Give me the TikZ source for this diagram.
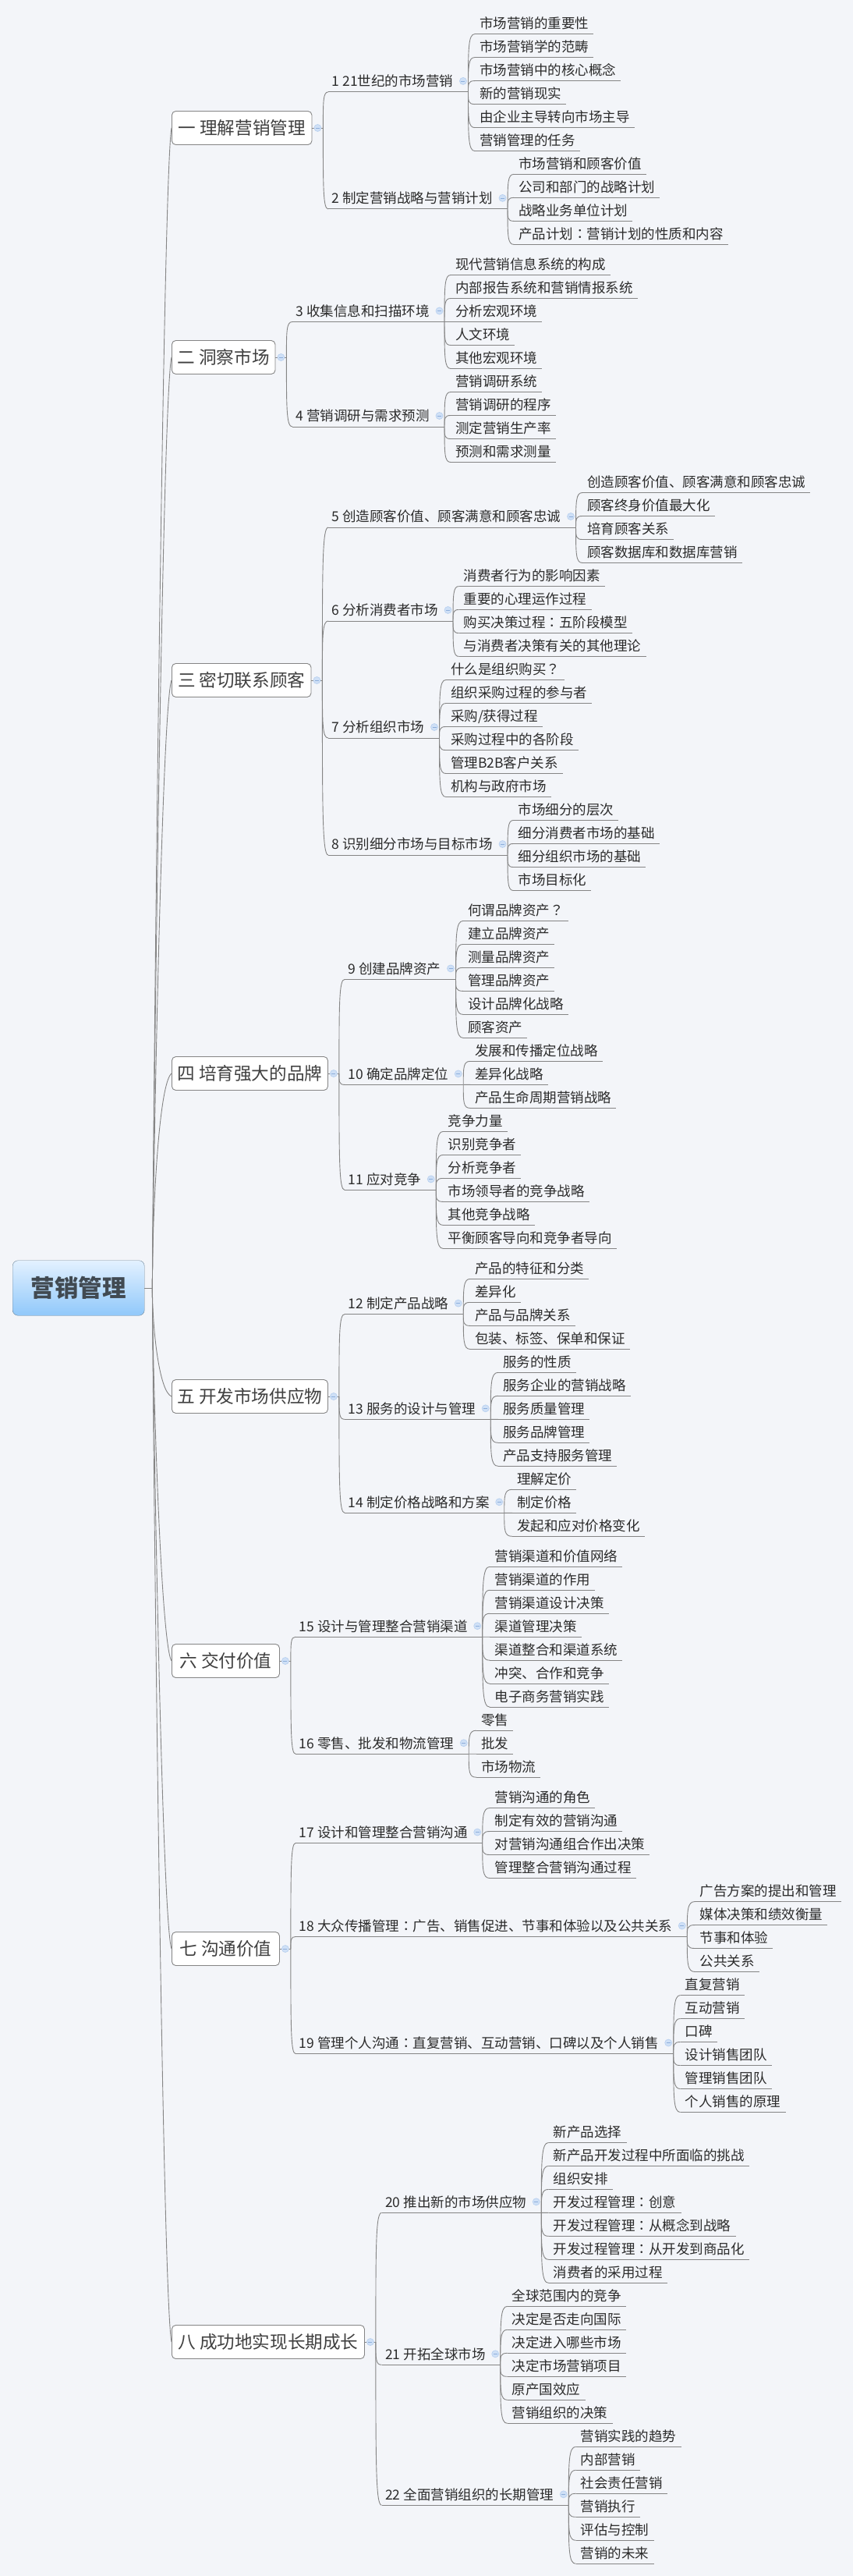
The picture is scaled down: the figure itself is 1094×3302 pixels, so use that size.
\documentclass[tikz,border=0pt]{standalone}
\usepackage{fontspec}
\setmainfont{Noto Sans CJK SC}
\newfontfamily\tcfont{Noto Sans CJK TC}
\usetikzlibrary{calc}
\definecolor{paper}{HTML}{F3F5F9}
\definecolor{linkgray}{HTML}{858585}
\definecolor{inkdark}{HTML}{2B2B2B}
\definecolor{foldfill}{HTML}{CFE0F6}
\definecolor{foldedge}{HTML}{B9D1F0}
\definecolor{foldbar}{HTML}{8DAEDB}
\definecolor{roottop}{HTML}{E3F1FF}
\definecolor{rootbottom}{HTML}{90C8FA}
\definecolor{rootedge}{HTML}{6F8698}
\definecolor{roottext}{HTML}{414A52}
\tikzset{
    link/.style={draw=linkgray,line width=0.9pt},
    leaf/.style={anchor=south west,font=\fontsize{17.5}{21}\selectfont,text=inkdark,inner xsep=6pt,inner ysep=7pt,text height=16pt,text depth=0pt},
    subt/.style={leaf,inner xsep=0pt,execute at begin node={\hspace*{4.5pt}},execute at end node={\hspace*{19pt}}},
    topic/.style={anchor=west,draw=linkgray,fill=white,rounded corners=5pt,line width=0.9pt,minimum height=43pt,inner sep=0pt,font=\fontsize{22.6}{27}\selectfont,text=black!75},
    rootbox/.style={anchor=west,draw=rootedge,rounded corners=7pt,top color=roottop,bottom color=rootbottom,minimum width=169pt,minimum height=70.5pt,inner sep=0pt,font=\fontsize{30.5}{36}\selectfont\bfseries,text=roottext},
    foldmark/.style={circle,draw=foldedge,fill=foldfill,line width=0.7pt,minimum size=9pt,inner sep=0pt,
        path picture={\draw[foldbar,line width=0.7pt] ([xshift=-2.5pt]path picture bounding box.center) -- ([xshift=2.5pt]path picture bounding box.center);}}
}
\newcommand{\tcp}[1]{{\tcfont #1}}
\newcommand{\bend}[2]{\draw[link] (#1) .. controls ($(#1)!.75!(#1|-#2)$) and (#1|-#2) .. (#2);}
\newcommand{\topicbox}[6]{% name, width, y, text, start bend, end shift
    \node[topic,minimum width=#2pt] (#1) at (220,#3) {#4};
    \coordinate (#1j) at ($(#1.east)+(14,0)$);
    \draw[link] (#1.east) -- (#1j);
    \node[foldmark] (#1f) at ($(#1.east)+(7,0)$) {};
    \draw[link] (tr) .. controls ($(tr)!#5!(tr|-#1.west)$) and ($(#1.west)!.045!(#1.west|-tr)+(#6,0)$) .. (#1.west);
}
\newcommand{\subtopic}[5]{% name, box, x, y, text
    \node[subt] (#1) at (#3,#4) {#5};
    \draw[link] (#1.south west) -- (#1.south east);
    \node[foldmark] (#1f) at ($(#1.south east)+(-6.5,-14)$) {};
    \bend{#2j}{#1.south west}
}
\newcommand{\leafgroup}[4]{% parent, x, first y, texts
    \foreach \txt [count=\i] in {#4} {
        \node[leaf] (#1-\i) at (#2,{#3+30*(\i-1)}) {\txt};
        \draw[link] (#1-\i.south west) -- (#1-\i.south east);
        \bend{#1.south east}{#1-\i.south west}
    }
}
\begin{document}
\begin{tikzpicture}[x=1pt,y=-1pt]
    \fill[paper] (0,0) rectangle (1094,3302);
    \useasboundingbox (0,0) rectangle (1094,3302);
    \node[rootbox] (root) at (16,1651) {营销管理};
    \coordinate (tr) at ($(root.east)+(10,0)$);
    \draw[link] (root.east) -- (tr);

    \topicbox{b1}{179.5}{164}{一 理解营销管理}{.045}{-12}
    \subtopic{s1}{b1}{421}{117.9}{1 21世纪的市场营销}
    \leafgroup{s1}{609}{43.6}{市场营销的重要性,市场营销学的范畴,市场营销中的核心概念,新的营销现实,由企业主导转向市场主导,营销管理的任务}
    \subtopic{s2}{b1}{421}{267.9}{2 制定营销战略与营销计划}
    \leafgroup{s2}{659}{223.4}{市场营销和顾客价值,公司和部门的战略计划,战略业务单位计划,产品计划\tcp{：}营销计划的性质和内容}

    \topicbox{b2}{132.5}{458}{二 洞察市场}{.06}{-12.5}
    \subtopic{s3}{b2}{375}{412.5}{3 收集信息和扫描环境}
    \leafgroup{s3}{578}{352.5}{现代营销信息系统的构成,内部报告系统和营销情报系统,分析宏观环境,人文环境,其他宏观环境}
    \subtopic{s4}{b2}{375}{547}{4 营销调研与需求预测}
    \leafgroup{s4}{578}{502.5}{营销调研系统,营销调研的程序,测定营销生产率,预测和需求测量}

    \topicbox{b3}{178.5}{872}{三 密切联系顾客}{.1}{-13}
    \subtopic{s5}{b3}{421}{676}{5 创造顾客价值、顾客满意和顾客忠诚}
    \leafgroup{s5}{747}{631.5}{创造顾客价值、顾客满意和顾客忠诚,顾客终身价值最大化,培育顾客关系,顾客数据库和数据库营销}
    \subtopic{s6}{b3}{421}{796}{6 分析消费者市场}
    \leafgroup{s6}{588.6}{751.5}{消费者行为的影响因素,重要的心理运作过程,购买决策过程\tcp{：}五阶段模型,与消费者决策有关的其他理论}
    \subtopic{s7}{b3}{421}{946}{7 分析组织市场}
    \leafgroup{s7}{571.8}{871.5}{什么是组织购买\tcp{？},组织采购过程的参与者,{采购/获得过程},采购过程中的各阶段,管理B2B客户关系,机构与政府市场}
    \subtopic{s8}{b3}{421}{1096}{8 识别细分市场与目标市场}
    \leafgroup{s8}{658.3}{1051.5}{市场细分的层次,细分消费者市场的基础,细分组织市场的基础,市场目标化}

    \topicbox{b4}{200}{1376}{四 培育强大的品牌}{.37}{-16}
    \subtopic{s9}{b4}{442}{1255.4}{9 创建品牌资产}
    \leafgroup{s9}{594}{1180.4}{何谓品牌资产\tcp{？},建立品牌资产,测量品牌资产,管理品牌资产,设计品牌化战略,顾客资产}
    \subtopic{s10}{b4}{442}{1390.4}{10 确定品牌定位}
    \leafgroup{s10}{603}{1360.4}{发展和传播定位战略,差异化战略,产品生命周期营销战略}
    \subtopic{s11}{b4}{442}{1525.4}{11 应对竞争}
    \leafgroup{s11}{568.3}{1450.4}{竞争力量,识别竞争者,分析竞争者,市场领导者的竞争战略,其他竞争战略,平衡顾客导向和竞争者导向}

    \topicbox{b5}{200}{1790}{五 开发市场供应物}{.37}{-16}
    \subtopic{s12}{b5}{442}{1684.6}{12 制定产品战略}
    \leafgroup{s12}{603}{1639.4}{产品的特征和分类,差异化,产品与品牌关系,包装、标签、保单和保证}
    \subtopic{s13}{b5}{442}{1819.3}{13 服务的设计与管理}
    \leafgroup{s13}{638.8}{1759.3}{服务的性质,服务企业的营销战略,服务质量管理,服务品牌管理,产品支持服务管理}
    \subtopic{s14}{b5}{442}{1939.3}{14 制定价格战略和方案}
    \leafgroup{s14}{657}{1909.3}{理解定价,制定价格,发起和应对价格变化}

    \topicbox{b6}{138}{2129}{六 交付价值}{.2}{-14}
    \subtopic{s15}{b6}{379}{2098.2}{15 设计与管理整合营销渠道}
    \leafgroup{s15}{628.3}{2008.2}{营销渠道和价值网络,营销渠道的作用,营销渠道设计决策,渠道管理决策,渠道整合和渠道系统,冲突、合作和竞争,电子商务营销实践}
    \subtopic{s16}{b6}{379}{2248.2}{16 零售、批发和物流管理}
    \leafgroup{s16}{611}{2218.2}{零售,批发,市场物流}

    \topicbox{b7}{138}{2498}{七 沟通价值}{.1}{-13}
    \subtopic{s17}{b7}{379}{2362.5}{17 设计和管理整合营销沟通}
    \leafgroup{s17}{628.3}{2317.5}{营销沟通的角色,制定有效的营销沟通,对营销沟通组合作出决策,管理整合营销沟通过程}
    \subtopic{s18}{b7}{379}{2482.5}{18 大众传播管理\tcp{：}广告、销售促进、节事和体验以及公共关系}
    \leafgroup{s18}{891.4}{2437.5}{广告方案的提出和管理,媒体决策和绩效衡量,节事和体验,公共关系}
    \subtopic{s19}{b7}{379}{2632.5}{19 管理个人沟通\tcp{：}直复营销、互动营销、口碑以及个人销售}
    \leafgroup{s19}{872.6}{2557.5}{直复营销,互动营销,口碑,设计销售团队,管理销售团队,个人销售的原理}

    \topicbox{b8}{247}{3002}{八 成功地实现长期成长}{.06}{-12.5}
    \subtopic{s20}{b8}{489.5}{2836.3}{20 推出新的市场供应物}
    \leafgroup{s20}{703.7}{2746.4}{新产品选择,新产品开发过程中所面临的挑战,组织安排,开发过程管理\tcp{：}创意,开发过程管理\tcp{：}从概念到战略,开发过程管理\tcp{：}从开发到商品化,消费者的采用过程}
    \subtopic{s21}{b8}{489.5}{3031.3}{21 开拓全球市场}
    \leafgroup{s21}{650.7}{2956.3}{全球范围内的竞争,决定是否走向国际,决定进入哪些市场,决定市场营销项目,原产国效应,营销组织的决策}
    \subtopic{s22}{b8}{489.5}{3211.3}{22 全面营销组织的长期管理}
    \leafgroup{s22}{738.6}{3136.3}{营销实践的趋势,内部营销,社会责任营销,营销执行,评估与控制,营销的未来}
\end{tikzpicture}
\end{document}
